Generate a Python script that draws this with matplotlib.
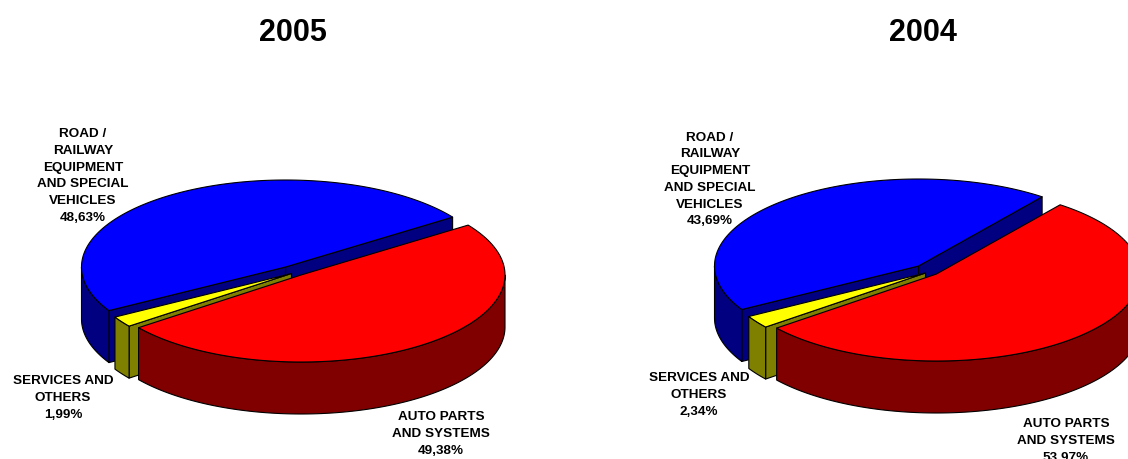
import numpy as np
import matplotlib
matplotlib.use("Agg")
import matplotlib.pyplot as plt
from matplotlib.patches import Polygon

plt.rcParams["font.family"] = ["Liberation Sans", "DejaVu Sans"]

# Shares per business area, in percent
categories = ["ROAD /\nRAILWAY\nEQUIPMENT\nAND SPECIAL\nVEHICLES",
              "SERVICES AND\nOTHERS",
              "AUTO PARTS\nAND SYSTEMS"]
values_2005 = [48.63, 1.99, 49.38]
values_2004 = [43.69, 2.34, 53.97]

top_colors = ["#0000FF", "#FFFF00", "#FF0000"]
side_colors = ["#000080", "#808000", "#800000"]

RX, RY, DEPTH = 204, 87, 52


def ell(center, t):
    """Project angle(s) in degrees onto the tilted pie's ellipse."""
    t = np.radians(t)
    return np.column_stack([center[0] + RX * np.cos(t), center[1] - RY * np.sin(t)])


def face(ax, pts, color, z):
    ax.add_patch(Polygon(pts, closed=True, facecolor=color, edgecolor="black",
                         linewidth=0.8, joinstyle="round", zorder=z))


def draw_slice(ax, center, t0, t1, top, side, z):
    down = np.array([0, DEPTH])
    c = np.array([center])
    # Cut walls: drawn only when their outward normal points at the viewer
    for t, normal in ((t0, t0 - 90), (t1, t1 + 90)):
        if np.sin(np.radians(normal)) < 0:
            rim_pt = ell(center, np.array([t]))
            face(ax, np.vstack([c, rim_pt, rim_pt + down, c + down]), side, z)
    # Outer wall: only the part on the front half of the ellipse shows
    for a, b in ((180, 360), (540, 720)):
        s, e = max(t0, a), min(t1, b)
        if e > s:
            arc = ell(center, np.linspace(s, e, 200))
            face(ax, np.vstack([arc, arc[::-1] + down]), side, z + 0.1)
    # Top surface
    arc = ell(center, np.linspace(t0, t1, 300))
    face(ax, np.vstack([c, arc]), top, z + 0.2)


def draw_pie(ax, values, start, center, offsets):
    sweep = np.array(values) / 100.0 * 360.0
    edges = start + np.concatenate([[0], np.cumsum(sweep)])
    for i in range(len(values)):
        ctr = (center[0] + offsets[i][0], center[1] + offsets[i][1])
        draw_slice(ax, ctr, edges[i], edges[i + 1], top_colors[i], side_colors[i], 2 + i)


def label(ax, xy, name, value):
    text = f"{name}\n{value:.2f}%".replace(".", ",")
    ax.text(xy[0], xy[1], text, ha="center", va="center", fontsize=9.7,
            fontweight="bold", color="black", linespacing=1.52, zorder=10)


fig = plt.figure(figsize=(11.28, 4.59), dpi=100, facecolor="white")
ax = fig.add_axes([0, 0, 1, 1])
ax.set_xlim(0, 1128)
ax.set_ylim(459, 0)
ax.axis("off")

draw_pie(ax, values_2005, 35.0, (285.5, 267), [(0, 0), (6, 6.5), (15.5, 8)])
draw_pie(ax, values_2004, 52.7, (918.5, 266), [(0, 0), (7, 7), (18, 8)])

ax.text(292.5, 33, "2005", ha="center", va="center", fontsize=22, fontweight="bold")
ax.text(923, 33, "2004", ha="center", va="center", fontsize=22, fontweight="bold")

for xy, name, v in zip([(83, 176), (63, 398), (441, 434)], categories, values_2005):
    label(ax, xy, name, v)
for xy, name, v in zip([(710, 179.5), (699, 395), (1066, 441)], categories, values_2004):
    label(ax, xy, name, v)

fig.savefig("out.png", dpi=100, facecolor="white")
